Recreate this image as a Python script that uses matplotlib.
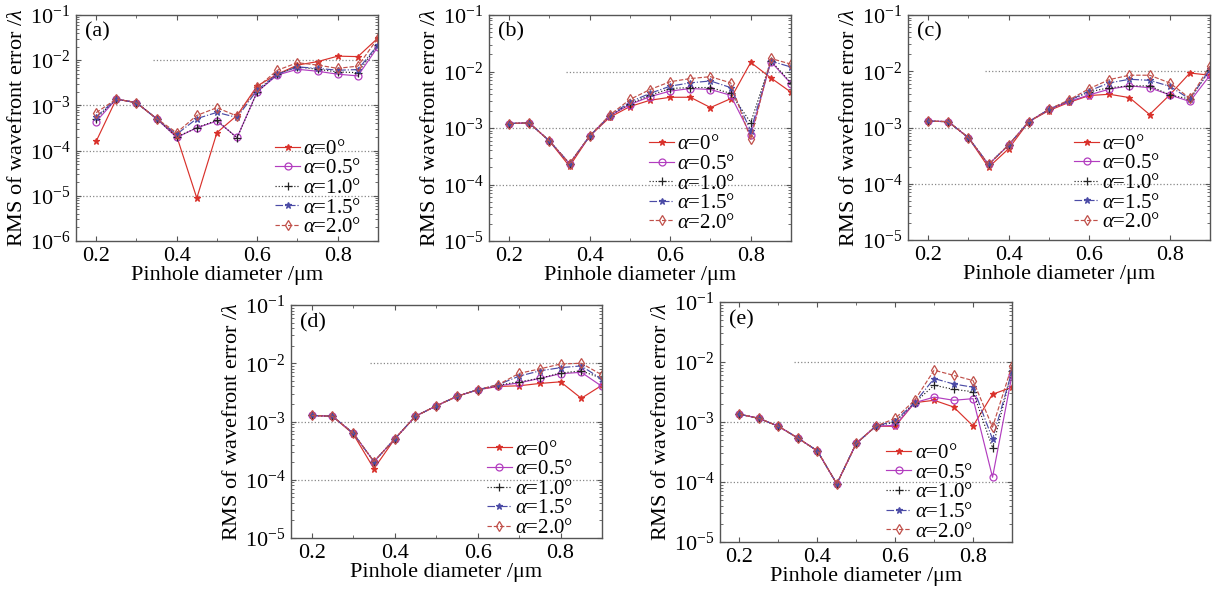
import numpy as np
import matplotlib
matplotlib.use('Agg')
import matplotlib.pyplot as plt
from matplotlib.ticker import LogLocator, LogFormatterMathtext, MultipleLocator, NullFormatter

plt.rcParams['font.family'] = 'Liberation Serif'
plt.rcParams['mathtext.fontset'] = 'custom'
plt.rcParams['mathtext.rm'] = 'Liberation Serif'
plt.rcParams['mathtext.it'] = 'Liberation Serif:italic'

diam = [0.2, 0.25, 0.3, 0.35, 0.4, 0.45, 0.5, 0.55, 0.6, 0.65, 0.7, 0.75, 0.8, 0.85, 0.9]
alpha_labels = [r'$\alpha$=0°', r'$\alpha$=0.5°', r'$\alpha$=1.0°', r'$\alpha$=1.5°', r'$\alpha$=2.0°']

# panel (a)
a_0 = [1.6e-4, 1.38e-3, 1.15e-3, 5.1e-4, 2.1e-4, 8.9e-6, 2.5e-4, 6.0e-4, 2.7e-3, 4.9e-3, 7.8e-3, 9.3e-3, 1.23e-2, 1.2e-2, 3.1e-2]
a_05 = [4.4e-4, 1.38e-3, 1.15e-3, 5.1e-4, 1.95e-4, 3.2e-4, 4.5e-4, 1.95e-4, 2.0e-3, 4.7e-3, 6.3e-3, 5.7e-3, 4.9e-3, 4.5e-3, 2.0e-2]
a_10 = [5.1e-4, 1.38e-3, 1.15e-3, 5.1e-4, 2.0e-4, 3.2e-4, 4.7e-4, 1.9e-4, 2.0e-3, 4.9e-3, 7.1e-3, 6.3e-3, 5.5e-3, 5.3e-3, 2.2e-2]
a_15 = [5.6e-4, 1.38e-3, 1.15e-3, 5.1e-4, 2.3e-4, 5.1e-4, 7.0e-4, 5.4e-4, 2.2e-3, 4.9e-3, 7.1e-3, 6.6e-3, 6.0e-3, 6.2e-3, 2.2e-2]
a_20 = [6.9e-4, 1.38e-3, 1.15e-3, 5.1e-4, 2.5e-4, 6.0e-4, 8.9e-4, 5.8e-4, 2.5e-3, 6.0e-3, 8.8e-3, 7.8e-3, 6.6e-3, 7.4e-3, 3.1e-2]

# panel (b)
b_0 = [1.2e-3, 1.23e-3, 5.9e-4, 2.1e-4, 7.2e-4, 1.55e-3, 2.4e-3, 3.1e-3, 3.5e-3, 3.5e-3, 2.3e-3, 3.3e-3, 1.45e-2, 7.7e-3, 4.3e-3]
b_05 = [1.2e-3, 1.23e-3, 5.9e-4, 2.35e-4, 7.2e-4, 1.65e-3, 2.6e-3, 3.6e-3, 4.5e-3, 5.0e-3, 4.8e-3, 3.8e-3, 7.5e-4, 1.5e-2, 6.1e-3]
b_10 = [1.2e-3, 1.23e-3, 5.9e-4, 2.35e-4, 7.2e-4, 1.65e-3, 2.7e-3, 3.8e-3, 5.0e-3, 5.2e-3, 5.2e-3, 4.1e-3, 1.25e-3, 1.55e-2, 6.3e-3]
b_15 = [1.2e-3, 1.23e-3, 5.9e-4, 2.35e-4, 7.2e-4, 1.65e-3, 2.9e-3, 4.1e-3, 5.5e-3, 6.3e-3, 6.8e-3, 5.2e-3, 9.0e-4, 1.53e-2, 1.2e-2]
b_20 = [1.2e-3, 1.23e-3, 5.9e-4, 2.35e-4, 7.2e-4, 1.7e-3, 3.2e-3, 4.8e-3, 6.6e-3, 7.5e-3, 8.1e-3, 6.3e-3, 6.3e-4, 1.7e-2, 1.35e-2]

# panel (c)
c_0 = [1.3e-3, 1.27e-3, 6.6e-4, 1.96e-4, 4.2e-4, 1.27e-3, 2.0e-3, 2.8e-3, 3.7e-3, 3.9e-3, 3.4e-3, 1.7e-3, 3.8e-3, 9.3e-3, 8.5e-3]
c_05 = [1.3e-3, 1.27e-3, 6.6e-4, 2.2e-4, 4.9e-4, 1.27e-3, 2.1e-3, 2.9e-3, 3.8e-3, 4.8e-3, 5.5e-3, 5.1e-3, 3.8e-3, 2.9e-3, 8.5e-3]
c_10 = [1.3e-3, 1.27e-3, 6.6e-4, 2.2e-4, 4.9e-4, 1.27e-3, 2.1e-3, 3.0e-3, 4.3e-3, 5.1e-3, 5.5e-3, 5.5e-3, 3.8e-3, 3.2e-3, 1.05e-2]
c_15 = [1.3e-3, 1.27e-3, 6.6e-4, 2.2e-4, 4.9e-4, 1.27e-3, 2.1e-3, 3.0e-3, 4.5e-3, 6.2e-3, 7.2e-3, 6.9e-3, 5.4e-3, 3.2e-3, 1.1e-2]
c_20 = [1.3e-3, 1.27e-3, 6.6e-4, 2.2e-4, 4.9e-4, 1.27e-3, 2.1e-3, 3.1e-3, 4.9e-3, 7.1e-3, 8.5e-3, 8.5e-3, 6.2e-3, 3.3e-3, 1.25e-2]

# panel (d)
d_0 = [1.27e-3, 1.23e-3, 6.1e-4, 1.55e-4, 5.0e-4, 1.23e-3, 1.85e-3, 2.7e-3, 3.5e-3, 4.0e-3, 4.1e-3, 4.5e-3, 4.8e-3, 2.5e-3, 4.2e-3]
d_05 = [1.27e-3, 1.23e-3, 6.3e-4, 2.05e-4, 5.0e-4, 1.23e-3, 1.85e-3, 2.7e-3, 3.5e-3, 4.1e-3, 4.6e-3, 5.5e-3, 6.6e-3, 7.0e-3, 4.0e-3]
d_10 = [1.27e-3, 1.23e-3, 6.3e-4, 2.05e-4, 5.0e-4, 1.23e-3, 1.85e-3, 2.7e-3, 3.5e-3, 4.2e-3, 4.8e-3, 5.5e-3, 6.8e-3, 7.4e-3, 5.5e-3]
d_15 = [1.27e-3, 1.23e-3, 6.3e-4, 2.05e-4, 5.0e-4, 1.23e-3, 1.85e-3, 2.7e-3, 3.5e-3, 4.3e-3, 6.0e-3, 7.4e-3, 8.4e-3, 9.0e-3, 5.3e-3]
d_20 = [1.27e-3, 1.23e-3, 6.3e-4, 2.05e-4, 5.0e-4, 1.23e-3, 1.85e-3, 2.7e-3, 3.5e-3, 4.3e-3, 6.7e-3, 8.0e-3, 9.7e-3, 1.0e-2, 6.3e-3]

# panel (e)
e_0 = [1.35e-3, 1.15e-3, 8.5e-4, 5.4e-4, 3.3e-4, 9.3e-5, 4.4e-4, 8.5e-4, 8.5e-4, 2.1e-3, 2.3e-3, 1.78e-3, 8.6e-4, 2.9e-3, 3.8e-3]
e_05 = [1.35e-3, 1.15e-3, 8.5e-4, 5.4e-4, 3.3e-4, 9.3e-5, 4.4e-4, 8.5e-4, 8.8e-4, 2.1e-3, 2.6e-3, 2.3e-3, 2.45e-3, 1.2e-4, 6.1e-3]
e_10 = [1.35e-3, 1.15e-3, 8.5e-4, 5.4e-4, 3.3e-4, 9.3e-5, 4.4e-4, 8.5e-4, 1.0e-3, 2.1e-3, 4.1e-3, 3.5e-3, 3.2e-3, 3.7e-4, 7.2e-3]
e_15 = [1.35e-3, 1.15e-3, 8.5e-4, 5.4e-4, 3.3e-4, 9.3e-5, 4.4e-4, 8.5e-4, 1.05e-3, 2.1e-3, 5.3e-3, 4.3e-3, 3.8e-3, 5.2e-4, 7.0e-3]
e_20 = [1.35e-3, 1.15e-3, 8.5e-4, 5.4e-4, 3.3e-4, 9.3e-5, 4.4e-4, 8.5e-4, 1.15e-3, 2.3e-3, 7.3e-3, 6.0e-3, 4.9e-3, 8.2e-4, 8.7e-3]

colors = ['#d9312b', '#b23dbf', '#222222', '#4b4ba6', '#c0504a']
styles = ['-', '-', ':', '-.', '--']
markers = ['*', 'o', '+', '*', 'd']
fills = ['full', 'none', 'full', 'full', 'none']
msizes = [4.5, 5, 6, 4.5, 5]

# [left, bottom, width, height] in pixels, y-min exponent, legend anchor, tag
panels = [
    ([76, 241, 302, 226], -6, (0.66, 0.45), '(a)', [a_0, a_05, a_10, a_15, a_20]),
    ([489, 241, 302, 226], -5, (0.53, 0.47), '(b)', [b_0, b_05, b_10, b_15, b_20]),
    ([908, 240, 302, 225], -5, (0.55, 0.47), '(c)', [c_0, c_05, c_10, c_15, c_20]),
    ([291, 538, 311, 233], -5, (0.63, 0.42), '(d)', [d_0, d_05, d_10, d_15, d_20]),
    ([720, 542, 292, 240], -5, (0.57, 0.41), '(e)', [e_0, e_05, e_10, e_15, e_20]),
]

W, H = 1225, 593
fig = plt.figure(figsize=(W / 100, H / 100), dpi=100)

for box, ymin_exp, leg_pos, tag, series in panels:
    l, b, w, h = box
    ax = fig.add_axes([l / W, (H - b) / H, w / W, h / H])
    ax.set_yscale('log')
    ax.set_xlim(0.15, 0.9)
    ax.set_ylim(10.0 ** ymin_exp, 1e-1)

    # dotted decade lines, the 1e-2 one only starts at ~0.34
    for e in range(ymin_exp + 1, -1):
        x0 = 0.34 if e == -2 else 0.15
        ax.hlines(10.0 ** e, x0, 0.9, colors='#888888', linestyles=':', linewidth=0.9, zorder=0)

    for k in range(5):
        ax.plot(diam, series[k], color=colors[k], linestyle=styles[k], marker=markers[k],
                fillstyle=fills[k], markersize=msizes[k],
                markeredgewidth=0.9, linewidth=0.85, label=alpha_labels[k])

    ax.xaxis.set_major_locator(MultipleLocator(0.2))
    ax.xaxis.set_minor_locator(MultipleLocator(0.1))
    ax.yaxis.set_major_locator(LogLocator(base=10, numticks=10))
    ax.yaxis.set_minor_locator(LogLocator(base=10, subs=np.arange(2, 10), numticks=10))
    ax.yaxis.set_major_formatter(LogFormatterMathtext())
    ax.yaxis.set_minor_formatter(NullFormatter())
    ax.tick_params(which='both', direction='in', top=True, right=True, labelsize=16,
                   color='#555555', pad=4)
    ax.tick_params(which='major', length=3.5)
    ax.tick_params(which='minor', length=2)
    for s in ax.spines.values():
        s.set_color('#555555')
        s.set_linewidth(1.0)

    ax.set_xlabel('Pinhole diameter /μm', fontsize=16, labelpad=0)
    ax.set_ylabel(r'RMS of wavefront error /$\lambda$', fontsize=16, labelpad=2)
    ax.text(0.03, 0.925, tag, transform=ax.transAxes, fontsize=16, va='center', ha='left')

    ax.legend(loc='upper left', bbox_to_anchor=leg_pos, frameon=False, fontsize=15,
              borderpad=0, borderaxespad=0, handlelength=1.2, handletextpad=0.15,
              labelspacing=0.0)

fig.savefig('out.png', dpi=100)
